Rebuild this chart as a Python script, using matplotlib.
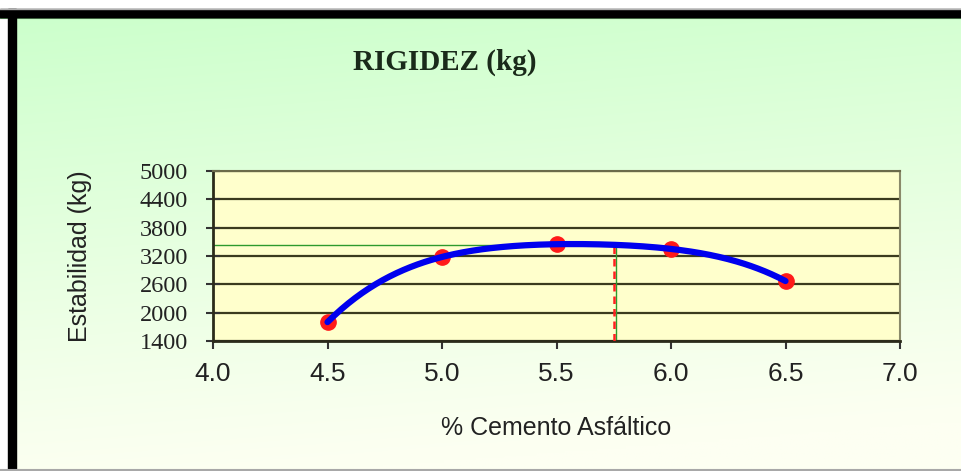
import numpy as np
import matplotlib.pyplot as plt
from matplotlib.patches import Rectangle

# Datos del ensayo Marshall: contenido de asfalto vs estabilidad
cemento = [4.5, 5.0, 5.5, 6.0, 6.5]
estabilidad = [1800, 3180, 3450, 3350, 2670]
optimo = 5.75  # % de cemento asfáltico óptimo

x_ticks = [4.0, 4.5, 5.0, 5.5, 6.0, 6.5, 7.0]
y_ticks = [1400, 2000, 2600, 3200, 3800, 4400, 5000]

# Línea de tendencia polinómica (como en Excel)
coef = np.polyfit(cemento, estabilidad, 4)
xs = np.linspace(cemento[0], cemento[-1], 200)
ys = np.polyval(coef, xs)
y_opt = np.polyval(coef, optimo)

W, H = 961, 471
fig = plt.figure(figsize=(W / 100, H / 100), dpi=100)
fig.patch.set_facecolor('white')

# Fondo degradado verde claro -> blanco
bg = fig.add_axes([0, 0, 1, 1], zorder=0)
bg.set_axis_off()
yy, xx = np.mgrid[0:1:200j, 0:1:300j]
g = np.clip(1.0 - (yy * 0.95 + xx * 0.15), 0, 1) ** 1.1
top = np.array([202, 255, 202]) / 255
bot = np.array([253, 255, 242]) / 255
img = bot + (top - bot) * g[..., None]
bg.imshow(img, extent=[0, 1, 0, 1], aspect='auto', origin='upper')
bg.set_xlim(0, 1)
bg.set_ylim(0, 1)

# Marco negro (superior e izquierdo) y líneas grises
bg.add_patch(Rectangle((0, 1 - 9 / H), 1, 9 / H, color='white', zorder=2))
bg.add_patch(Rectangle((0, 0), 8 / W, 1, color='white', zorder=2))
bg.add_patch(Rectangle((0, 1 - 17 / H), 1, 8 / H, color='black', zorder=3))
bg.add_patch(Rectangle((8 / W, 0), 8 / W, 1 - 9 / H, color='black', zorder=3))
bg.axhline(1 - 18 / H, color='#4f7a4f', lw=1.5, zorder=2)
bg.axhline(1 - 8.5 / H, color='#b0b0b0', lw=1, zorder=4)
bg.axhline(1.5 / H, color='#a8a8a8', lw=1.5, zorder=4)

ax = fig.add_axes([213 / W, 1 - 341 / H, 687 / W, 170 / H], zorder=1)
ax.set_facecolor('#ffffcc')

ax.set_xlim(4.0, 7.0)
ax.set_ylim(1400, 5000)
ax.set_xticks(x_ticks)
ax.set_xticklabels([f'{v:.1f}' for v in x_ticks], family='Liberation Sans', fontsize=19,
                   color='#222222')
ax.set_yticks(y_ticks)
ax.set_yticklabels([str(v) for v in y_ticks], family='Liberation Serif', fontsize=17.5,
                   color='#222222')

ax.grid(axis='y', color='#3b3b1e', lw=1.6, zorder=1)
ax.tick_params(axis='y', direction='inout', length=10, width=1.5, color='#333333', pad=13)
ax.tick_params(axis='x', direction='out', length=6, width=1.5, color='#333333', pad=9)
for s in ['left', 'bottom']:
    ax.spines[s].set_color('#2b2b1a')
    ax.spines[s].set_linewidth(2)
ax.spines['top'].set_color('#6b6b4a')
ax.spines['top'].set_linewidth(1.5)
ax.spines['right'].set_color('#8a8a6a')
ax.spines['right'].set_linewidth(1.5)

# Líneas del óptimo
ax.plot([4.0, optimo], [y_opt, y_opt], color='#2e9a2e', lw=1, zorder=2)
ax.plot([optimo + 0.01, optimo + 0.01], [1400, y_opt], color='#2e9a2e', lw=1, zorder=2)
ax.plot([optimo, optimo], [1400, y_opt], color='#ff2020', lw=1.8, ls=(0, (3, 2)), zorder=3)

# Puntos y curva
ax.plot(cemento, estabilidad, 'o', color='#ff1a1a', markersize=11, zorder=4)
ax.plot(xs, ys, color='#0000ee', lw=4.5, zorder=5, solid_capstyle='round')

ax.set_xlabel('% Cemento Asfáltico', family='Liberation Sans', fontsize=18, color='#222222')
ax.xaxis.set_label_coords(0.5, -0.44)
ax.set_ylabel('Estabilidad (kg)', family='Liberation Sans', fontsize=18, color='#222222')
ax.yaxis.set_label_coords(-0.176, 0.5)

fig.text(445 / W, 1 - 62 / H, 'RIGIDEZ (kg)', family='Liberation Serif', fontweight='bold',
         fontsize=21, color='#1a2a1a', ha='center', va='center')

fig.savefig('out.png', dpi=100)
